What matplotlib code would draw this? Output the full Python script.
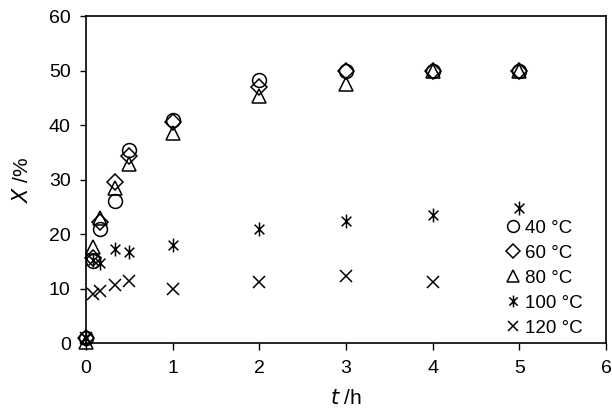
import matplotlib
matplotlib.use("Agg")
import matplotlib.pyplot as plt
from matplotlib.path import Path

plt.rcParams['font.family'] = ['Liberation Sans', 'DejaVu Sans']

# reaction time, h
t_full = [0, 0.083, 0.167, 0.333, 0.5, 1, 2, 3, 4, 5]
t_120 = [0, 0.083, 0.167, 0.333, 0.5, 1, 2, 3, 4]

# conversion X, %
x_40 = [1.0, 15.0, 21.0, 26.0, 35.4, 41.0, 48.3, 50.0, 50.0, 50.0]
x_60 = [1.0, 15.6, 22.2, 29.6, 34.3, 40.6, 47.0, 50.0, 50.0, 50.0]
x_80 = [0.3, 17.6, 23.0, 28.5, 32.8, 38.6, 45.4, 47.5, 50.0, 50.0]
x_100 = [1.0, 15.2, 14.8, 17.3, 16.8, 18.0, 21.0, 22.5, 23.6, 24.8]
x_120 = [1.0, 9.1, 9.5, 10.7, 11.4, 10.0, 11.3, 12.4, 11.3]

labels = ['40 °C', '60 °C', '80 °C', '100 °C', '120 °C']

# Excel style asterisk: x plus a vertical bar
ast = Path([(-0.7, -0.7), (0.7, 0.7), (-0.7, 0.7), (0.7, -0.7), (0, -1), (0, 1)],
           [Path.MOVETO, Path.LINETO, Path.MOVETO, Path.LINETO, Path.MOVETO, Path.LINETO])

fig = plt.figure(figsize=(6.12, 4.13), dpi=100)
ax = fig.add_axes([0.1405, 0.169, 0.85, 0.792])

kw = dict(linestyle='none', color='black', markerfacecolor='none',
          markeredgewidth=1.1, clip_on=False)
ax.plot(t_full, x_40, marker='o', markersize=10, label=labels[0], **kw)
ax.plot(t_full, x_60, marker='D', markersize=8, label=labels[1], **kw)
ax.plot(t_full, x_80, marker='^', markersize=10, label=labels[2], **kw)
ax.plot(t_full, x_100, marker=ast, markersize=10, label=labels[3], **kw)
ax.plot(t_120, x_120, marker='x', markersize=9, label=labels[4], **kw)

ax.set_xlim(0, 6)
ax.set_ylim(0, 60)
ax.set_xticks(range(0, 7))
ax.set_yticks(range(0, 61, 10))
ax.tick_params(axis='x', direction='out', length=5, width=1, pad=7, labelsize=14)
ax.tick_params(axis='y', direction='out', length=4, width=1, pad=7, labelsize=14)
for s in ax.spines.values():
    s.set_linewidth(1.2)

ax.set_xlabel(r'$\it{t}$ /h', fontsize=15, labelpad=9)
ax.set_ylabel(r'$\it{X}$ /%', fontsize=15, labelpad=12)

ax.legend(loc='lower right', frameon=False, fontsize=13.5, handlelength=0.7,
          handletextpad=0.3, labelspacing=0.42, borderaxespad=0, borderpad=0,
          markerscale=0.85, bbox_to_anchor=(0.955, 0.02))

fig.savefig('out.png', dpi=100)
